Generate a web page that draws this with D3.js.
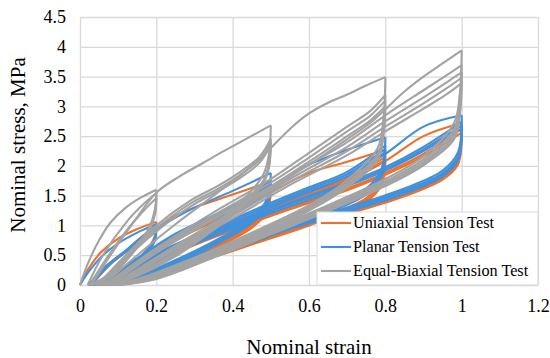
<!DOCTYPE html>
<html>
<head>
<meta charset="utf-8">
<script src="https://cdn.jsdelivr.net/npm/d3@7"></script>
<style>
  body { margin: 0; background: #fff; }
  text { font-family: "Liberation Serif", "Times New Roman", serif; fill: #000; }
</style>
</head>
<body>
<div id="chart"></div>
<script>
const xTicks = [0, 0.2, 0.4, 0.6, 0.8, 1, 1.2];
const yTicks = [0, 0.5, 1, 1.5, 2, 2.5, 3, 3.5, 4, 4.5];
const seriesNames = ["Uniaxial Tension Test", "Planar Tension Test", "Equal-Biaxial Tension Test"];

// each cycle = [loading branch, unloading branch], points are [strain, stress MPa]
const uniaxialCycles = [
  [[[0,0],[0.02,0.25],[0.055,0.55],[0.1,0.78],[0.15,0.94],[0.2,1.06]], [[0.2,1.06],[0.195,0.8],[0.17,0.56],[0.12,0.28],[0.06,0.06],[0.025,0]]],
  [[[0.025,0],[0.07,0.32],[0.12,0.58],[0.16,0.8],[0.2,1.0]], [[0.2,1.0],[0.195,0.76],[0.17,0.53],[0.12,0.26],[0.06,0.05],[0.028,0]]],
  [[[0.028,0],[0.07,0.3],[0.12,0.56],[0.16,0.78],[0.2,0.98]], [[0.2,0.98],[0.195,0.74],[0.17,0.51],[0.12,0.24],[0.06,0.04],[0.03,0]]],
  [[[0.03,0],[0.08,0.35],[0.14,0.65],[0.2,0.96],[0.25,1.16],[0.3,1.3],[0.4,1.52],[0.5,1.74]], [[0.5,1.74],[0.49,1.3],[0.45,1.02],[0.35,0.66],[0.25,0.38],[0.13,0.1],[0.05,0]]],
  [[[0.05,0],[0.15,0.42],[0.25,0.8],[0.35,1.1],[0.43,1.33],[0.5,1.62]], [[0.5,1.62],[0.49,1.26],[0.45,0.99],[0.35,0.63],[0.25,0.36],[0.13,0.09],[0.055,0]]],
  [[[0.055,0],[0.15,0.4],[0.25,0.77],[0.35,1.07],[0.43,1.3],[0.5,1.58]], [[0.5,1.58],[0.49,1.23],[0.45,0.96],[0.35,0.61],[0.25,0.34],[0.13,0.08],[0.06,0]]],
  [[[0.06,0],[0.15,0.4],[0.25,0.76],[0.35,1.06],[0.45,1.38],[0.5,1.56],[0.6,1.88],[0.7,2.07],[0.8,2.27]], [[0.8,2.27],[0.79,1.76],[0.75,1.46],[0.6,1.06],[0.45,0.72],[0.3,0.4],[0.16,0.1],[0.07,0]]],
  [[[0.07,0],[0.2,0.5],[0.35,0.9],[0.5,1.3],[0.6,1.55],[0.7,1.78],[0.8,2.15]], [[0.8,2.15],[0.79,1.71],[0.75,1.43],[0.6,1.03],[0.45,0.7],[0.3,0.38],[0.16,0.09],[0.075,0]]],
  [[[0.075,0],[0.2,0.48],[0.35,0.88],[0.5,1.27],[0.6,1.52],[0.7,1.75],[0.8,2.1]], [[0.8,2.1],[0.79,1.68],[0.75,1.4],[0.6,1.0],[0.45,0.68],[0.3,0.36],[0.16,0.08],[0.08,0]]],
  [[[0.08,0],[0.2,0.47],[0.35,0.86],[0.5,1.25],[0.6,1.5],[0.7,1.74],[0.8,2.08],[0.9,2.5],[1.0,2.72]], [[1.0,2.72],[0.99,2.12],[0.95,1.84],[0.85,1.56],[0.7,1.26],[0.55,0.98],[0.4,0.68],[0.25,0.36],[0.14,0.08],[0.09,0]]],
  [[[0.09,0],[0.25,0.55],[0.4,0.95],[0.55,1.3],[0.7,1.62],[0.8,1.88],[0.9,2.2],[1.0,2.62]], [[1.0,2.62],[0.99,2.06],[0.95,1.8],[0.85,1.52],[0.7,1.22],[0.55,0.95],[0.4,0.65],[0.25,0.33],[0.14,0.07],[0.095,0]]],
  [[[0.095,0],[0.25,0.53],[0.4,0.92],[0.55,1.27],[0.7,1.59],[0.8,1.85],[0.9,2.16],[1.0,2.56]], [[1.0,2.56],[0.99,2.02],[0.95,1.77],[0.85,1.49],[0.7,1.19],[0.55,0.92],[0.4,0.62],[0.25,0.3],[0.14,0.06],[0.1,0]]]
];

const planarCycles = [
  [[[0,0],[0.02,0.2],[0.06,0.5],[0.1,0.7],[0.15,0.88],[0.2,1.02]], [[0.2,1.02],[0.195,0.78],[0.17,0.55],[0.12,0.27],[0.06,0.05],[0.022,0]]],
  [[[0.022,0],[0.07,0.33],[0.12,0.58],[0.16,0.79],[0.2,0.97]], [[0.2,0.97],[0.195,0.75],[0.17,0.52],[0.12,0.25],[0.06,0.04],[0.026,0]]],
  [[[0.026,0],[0.07,0.31],[0.12,0.56],[0.16,0.77],[0.2,0.95]], [[0.2,0.95],[0.195,0.73],[0.17,0.5],[0.12,0.23],[0.06,0.04],[0.03,0]]],
  [[[0.03,0],[0.08,0.36],[0.14,0.66],[0.2,0.93],[0.25,1.13],[0.3,1.3],[0.4,1.58],[0.5,1.88]], [[0.5,1.88],[0.49,1.45],[0.45,1.12],[0.35,0.73],[0.25,0.42],[0.13,0.11],[0.045,0]]],
  [[[0.045,0],[0.15,0.45],[0.25,0.86],[0.35,1.17],[0.43,1.42],[0.5,1.76]], [[0.5,1.76],[0.49,1.4],[0.45,1.09],[0.35,0.7],[0.25,0.4],[0.13,0.1],[0.05,0]]],
  [[[0.05,0],[0.15,0.43],[0.25,0.83],[0.35,1.14],[0.43,1.39],[0.5,1.71]], [[0.5,1.71],[0.49,1.37],[0.45,1.06],[0.35,0.68],[0.25,0.38],[0.13,0.09],[0.055,0]]],
  [[[0.055,0],[0.15,0.41],[0.25,0.8],[0.35,1.11],[0.43,1.36],[0.5,1.67]], [[0.5,1.67],[0.49,1.34],[0.45,1.04],[0.35,0.66],[0.25,0.36],[0.13,0.08],[0.06,0]]],
  [[[0.06,0],[0.15,0.42],[0.25,0.8],[0.35,1.1],[0.45,1.38],[0.5,1.6],[0.55,1.84],[0.6,2.02],[0.7,2.27],[0.8,2.48]], [[0.8,2.48],[0.79,1.95],[0.75,1.62],[0.6,1.16],[0.45,0.78],[0.3,0.43],[0.16,0.11],[0.065,0]]],
  [[[0.065,0],[0.2,0.53],[0.35,0.96],[0.5,1.38],[0.6,1.64],[0.7,1.9],[0.8,2.34]], [[0.8,2.34],[0.79,1.88],[0.75,1.58],[0.6,1.13],[0.45,0.75],[0.3,0.41],[0.16,0.1],[0.07,0]]],
  [[[0.07,0],[0.2,0.51],[0.35,0.93],[0.5,1.35],[0.6,1.61],[0.7,1.86],[0.8,2.28]], [[0.8,2.28],[0.79,1.85],[0.75,1.55],[0.6,1.1],[0.45,0.73],[0.3,0.39],[0.16,0.09],[0.075,0]]],
  [[[0.075,0],[0.2,0.49],[0.35,0.9],[0.5,1.32],[0.6,1.58],[0.7,1.82],[0.8,2.23]], [[0.8,2.23],[0.79,1.82],[0.75,1.52],[0.6,1.08],[0.45,0.71],[0.3,0.37],[0.16,0.08],[0.08,0]]],
  [[[0.08,0],[0.2,0.48],[0.35,0.88],[0.5,1.3],[0.6,1.56],[0.7,1.82],[0.8,2.2],[0.9,2.66],[1.0,2.85]], [[1.0,2.85],[0.99,2.22],[0.95,1.92],[0.85,1.62],[0.7,1.3],[0.55,1.0],[0.4,0.7],[0.25,0.37],[0.14,0.08],[0.085,0]]],
  [[[0.085,0],[0.25,0.58],[0.4,1.0],[0.55,1.38],[0.7,1.72],[0.8,1.98],[0.9,2.32],[1.0,2.74]], [[1.0,2.74],[0.99,2.16],[0.95,1.88],[0.85,1.59],[0.7,1.27],[0.55,0.98],[0.4,0.68],[0.25,0.35],[0.14,0.07],[0.09,0]]],
  [[[0.09,0],[0.25,0.56],[0.4,0.97],[0.55,1.35],[0.7,1.69],[0.8,1.95],[0.9,2.28],[1.0,2.68]], [[1.0,2.68],[0.99,2.12],[0.95,1.85],[0.85,1.56],[0.7,1.24],[0.55,0.96],[0.4,0.66],[0.25,0.33],[0.14,0.06],[0.095,0]]],
  [[[0.095,0],[0.25,0.54],[0.4,0.95],[0.55,1.32],[0.7,1.66],[0.8,1.92],[0.9,2.25],[1.0,2.63]], [[1.0,2.63],[0.99,2.09],[0.95,1.82],[0.85,1.53],[0.7,1.22],[0.55,0.94],[0.4,0.64],[0.25,0.32],[0.14,0.06],[0.1,0]]]
];

const biaxialCycles = [
  [[[0,0],[0.02,0.35],[0.05,0.75],[0.08,1.05],[0.12,1.3],[0.16,1.47],[0.2,1.6]], [[0.2,1.6],[0.197,1.3],[0.18,0.95],[0.14,0.6],[0.09,0.25],[0.04,0.04],[0.02,0]]],
  [[[0.02,0],[0.06,0.5],[0.126,1.09],[0.17,1.38],[0.2,1.54]], [[0.2,1.54],[0.197,1.25],[0.18,0.92],[0.14,0.57],[0.09,0.23],[0.04,0.03],[0.025,0]]],
  [[[0.025,0],[0.07,0.45],[0.12,0.9],[0.16,1.2],[0.2,1.46]], [[0.2,1.46],[0.197,1.2],[0.18,0.9],[0.14,0.55],[0.09,0.2],[0.04,0.02],[0.03,0]]],
  [[[0.03,0],[0.08,0.5],[0.14,1.05],[0.2,1.55],[0.26,1.82],[0.32,2.04],[0.38,2.26],[0.44,2.47],[0.5,2.68]], [[0.5,2.68],[0.495,2.2],[0.48,1.85],[0.42,1.38],[0.34,0.95],[0.25,0.55],[0.13,0.13],[0.045,0]]],
  [[[0.045,0],[0.12,0.5],[0.2,1.0],[0.29,1.42],[0.36,1.66],[0.42,1.9],[0.47,2.15],[0.5,2.45]], [[0.5,2.45],[0.495,2.05],[0.48,1.75],[0.42,1.33],[0.34,0.92],[0.25,0.52],[0.13,0.12],[0.05,0]]],
  [[[0.05,0],[0.12,0.47],[0.2,0.95],[0.29,1.37],[0.36,1.61],[0.42,1.85],[0.47,2.1],[0.5,2.4]], [[0.5,2.4],[0.495,2.0],[0.48,1.72],[0.42,1.3],[0.34,0.9],[0.25,0.5],[0.13,0.11],[0.055,0]]],
  [[[0.055,0],[0.12,0.44],[0.2,0.9],[0.29,1.32],[0.36,1.57],[0.42,1.8],[0.47,2.05],[0.5,2.35]], [[0.5,2.35],[0.495,1.97],[0.48,1.7],[0.42,1.28],[0.34,0.88],[0.25,0.48],[0.13,0.1],[0.06,0]]],
  [[[0.06,0],[0.15,0.5],[0.25,1.02],[0.35,1.5],[0.42,1.84],[0.46,2.06],[0.5,2.3],[0.55,2.62],[0.6,2.88],[0.65,3.06],[0.7,3.2],[0.75,3.35],[0.8,3.49]], [[0.8,3.49],[0.795,2.8],[0.78,2.3],[0.7,1.76],[0.6,1.34],[0.45,0.88],[0.3,0.46],[0.15,0.1],[0.065,0]]],
  [[[0.065,0],[0.2,0.62],[0.35,1.22],[0.5,1.78],[0.6,2.22],[0.7,2.66],[0.76,2.92],[0.8,3.19]], [[0.8,3.19],[0.795,2.6],[0.78,2.2],[0.7,1.71],[0.6,1.31],[0.45,0.85],[0.3,0.44],[0.15,0.09],[0.07,0]]],
  [[[0.07,0],[0.2,0.59],[0.35,1.17],[0.5,1.72],[0.6,2.14],[0.7,2.58],[0.76,2.84],[0.8,3.1]], [[0.8,3.1],[0.795,2.55],[0.78,2.15],[0.7,1.68],[0.6,1.28],[0.45,0.83],[0.3,0.42],[0.15,0.08],[0.075,0]]],
  [[[0.075,0],[0.2,0.56],[0.35,1.13],[0.5,1.66],[0.6,2.07],[0.7,2.5],[0.76,2.76],[0.8,3.0]], [[0.8,3.0],[0.795,2.5],[0.78,2.1],[0.7,1.64],[0.6,1.25],[0.45,0.8],[0.3,0.4],[0.15,0.07],[0.08,0]]],
  [[[0.08,0],[0.2,0.54],[0.35,1.1],[0.5,1.62],[0.6,2.02],[0.7,2.45],[0.76,2.72],[0.8,2.95],[0.85,3.25],[0.9,3.5],[0.95,3.72],[1.0,3.94]], [[1.0,3.94],[0.995,3.2],[0.98,2.72],[0.9,2.16],[0.8,1.78],[0.65,1.34],[0.5,0.94],[0.35,0.54],[0.2,0.14],[0.085,0]]],
  [[[0.085,0],[0.25,0.66],[0.4,1.24],[0.55,1.84],[0.7,2.4],[0.8,2.85],[0.9,3.27],[0.96,3.52],[1.0,3.69]], [[1.0,3.69],[0.995,3.05],[0.98,2.62],[0.9,2.11],[0.8,1.74],[0.65,1.31],[0.5,0.91],[0.35,0.52],[0.2,0.13],[0.09,0]]],
  [[[0.09,0],[0.25,0.63],[0.4,1.2],[0.55,1.78],[0.7,2.32],[0.8,2.75],[0.9,3.15],[0.96,3.4],[1.0,3.57]], [[1.0,3.57],[0.995,2.97],[0.98,2.56],[0.9,2.07],[0.8,1.71],[0.65,1.29],[0.5,0.89],[0.35,0.5],[0.2,0.12],[0.095,0]]],
  [[[0.095,0],[0.25,0.61],[0.4,1.16],[0.55,1.73],[0.7,2.25],[0.8,2.66],[0.9,3.05],[0.96,3.3],[1.0,3.48]], [[1.0,3.48],[0.995,2.9],[0.98,2.5],[0.9,2.04],[0.8,1.68],[0.65,1.26],[0.5,0.87],[0.35,0.48],[0.2,0.11],[0.1,0]]],
  [[[0.1,0],[0.25,0.59],[0.4,1.12],[0.55,1.68],[0.7,2.18],[0.8,2.58],[0.9,2.96],[0.96,3.2],[1.0,3.39]], [[1.0,3.39],[0.995,2.85],[0.98,2.45],[0.9,2.01],[0.8,1.66],[0.65,1.24],[0.5,0.85],[0.35,0.46],[0.2,0.1],[0.105,0]]]
];

const colors = ["#F0702A", "#4190DB", "#A3A3A3"];

const width = 550, height = 358;
const margin = { top: 17, right: 12, bottom: 73, left: 80 };
const innerW = width - margin.left - margin.right;
const innerH = height - margin.top - margin.bottom;

const svg = d3.select("#chart").append("svg")
  .attr("width", width)
  .attr("height", height);

const g = svg.append("g")
  .attr("transform", "translate(" + margin.left + "," + margin.top + ")");

const x = d3.scaleLinear().domain([0, 1.2]).range([0, innerW]);
const y = d3.scaleLinear().domain([0, 4.5]).range([innerH, 0]);

// gridlines + tick labels
const xAxis = g.append("g")
  .attr("transform", "translate(0," + innerH + ")")
  .call(d3.axisBottom(x).tickValues(xTicks).tickSize(-innerH).tickPadding(14).tickFormat(d => d));
const yAxis = g.append("g")
  .call(d3.axisLeft(y).tickValues(yTicks).tickSize(-innerW).tickPadding(14).tickFormat(d => d));

[xAxis, yAxis].forEach(a => {
  a.select(".domain").remove();
  a.selectAll(".tick line").attr("stroke", "#D9D9D9").attr("stroke-width", 1.3);
  a.selectAll(".tick text").style("font-size", "18px").style("font-family", "'Liberation Serif', serif").attr("fill", "#000");
});

const line = d3.line()
  .x(d => x(d[0]))
  .y(d => y(d[1]))
  .curve(d3.curveCatmullRom.alpha(0.5));

const tests = [uniaxialCycles, planarCycles, biaxialCycles];
tests.forEach((cycles, i) => {
  const branches = cycles.flat();
  g.append("g")
    .selectAll("path")
    .data(branches)
    .join("path")
    .attr("fill", "none")
    .attr("stroke", colors[i])
    .attr("stroke-width", 2.1)
    .attr("stroke-linejoin", "round")
    .attr("d", line);
});

// legend
const legend = g.append("g")
  .attr("transform", "translate(" + (innerW - 221) + "," + (innerH - 73) + ")");
legend.append("rect")
  .attr("width", 221).attr("height", 73)
  .attr("fill", "#fff").attr("stroke", "#D9D9D9");
seriesNames.forEach((name, i) => {
  const ly = 11 + i * 24;
  legend.append("line")
    .attr("x1", 4).attr("x2", 34).attr("y1", ly).attr("y2", ly)
    .attr("stroke", colors[i]).attr("stroke-width", 2.1);
  legend.append("text")
    .attr("x", 36).attr("y", ly).attr("dy", "0.33em")
    .style("font-size", "16.2px")
    .text(name);
});

// axis titles
svg.append("text")
  .attr("x", margin.left + x(0.6)).attr("y", 354)
  .attr("text-anchor", "middle")
  .style("font-size", "21px")
  .text("Nominal strain");
svg.append("text")
  .attr("transform", "translate(25,145) rotate(-90)")
  .attr("text-anchor", "middle")
  .style("font-size", "21px")
  .text("Nominal stress, MPa");
</script>
</body>
</html>
